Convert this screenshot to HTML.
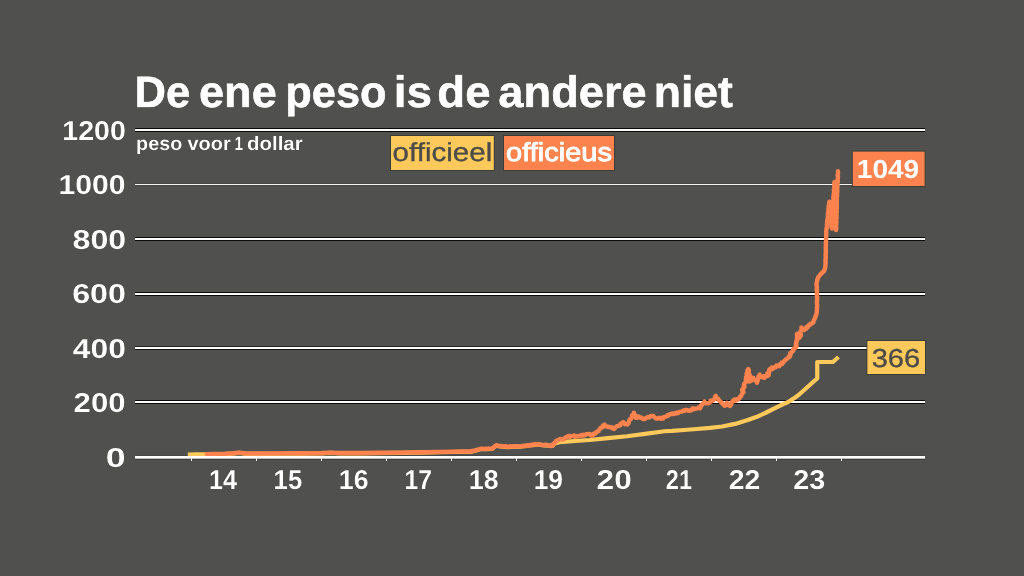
<!DOCTYPE html>
<html lang="nl"><head><meta charset="utf-8"><title>De ene peso is de andere niet</title>
<style>
html,body{margin:0;padding:0;background:#50504e;}
body{width:1024px;height:576px;overflow:hidden;}
svg{display:block;}
text{font-family:"Liberation Sans",sans-serif;text-rendering:geometricPrecision;}
.t{font-weight:700;font-size:44px;fill:#fff;stroke:#fff;stroke-width:0.7px;stroke-linejoin:round;}
.ax{font-weight:700;font-size:27.4px;fill:#fff;}
.sub{font-weight:700;font-size:19.3px;fill:#fff;}
.lg{font-size:26px;}
.med{stroke:#fff;stroke-width:0.9px;stroke-linejoin:round;}
.b{font-weight:700;}
.dk{stroke:#4b4b49;stroke-width:0.35px;stroke-linejoin:round;}
.halo{filter:drop-shadow(0 0 0.6px rgba(10,10,10,1)) drop-shadow(0 0 0.4px rgba(10,10,10,0.7));}
</style></head><body>
<svg width="1024" height="576" viewBox="0 0 1024 576">
<rect width="1024" height="576" fill="#50504e"/>
<g shape-rendering="crispEdges">
<rect x="135" y="128" width="789.6" height="1" fill="#0a0a0a"/>
<rect x="135" y="131" width="789.6" height="1" fill="#0a0a0a"/>
<rect x="135" y="129" width="789.6" height="2" fill="#fafafa"/>
<rect x="135" y="183" width="789.6" height="1" fill="#474745"/>
<rect x="135" y="185" width="789.6" height="1" fill="#474745"/>
<rect x="135" y="184" width="789.6" height="1" fill="#f4f4f4"/>
<rect x="135" y="237" width="789.6" height="1" fill="#0c0c0c"/>
<rect x="135" y="240" width="789.6" height="1" fill="#0c0c0c"/>
<rect x="135" y="238" width="789.6" height="2" fill="#fafafa"/>
<rect x="135" y="292" width="789.6" height="1" fill="#0a0a0a"/>
<rect x="135" y="295" width="789.6" height="1" fill="#0a0a0a"/>
<rect x="135" y="293" width="789.6" height="2" fill="#fafafa"/>
<rect x="135" y="346" width="789.6" height="1" fill="#242423"/>
<rect x="135" y="349" width="789.6" height="1" fill="#161615"/>
<rect x="135" y="347" width="789.6" height="2" fill="#fafafa"/>
<rect x="135" y="400" width="789.6" height="1" fill="#0a0a0a"/>
<rect x="135" y="403" width="789.6" height="1" fill="#0a0a0a"/>
<rect x="135" y="401" width="789.6" height="2" fill="#fafafa"/>
</g>
<g shape-rendering="crispEdges">
<rect x="135" y="455" width="789.6" height="1" fill="#484846"/>
<rect x="135" y="459" width="789.6" height="1" fill="#3e3e3c"/>
</g>
<polyline fill="none" stroke="#fdc95a" stroke-width="4.2" stroke-linejoin="round" stroke-linecap="butt" points="187.80,454.50 196.00,454.40 205.00,454.30 206.80,454.55 215.00,454.35 225.00,454.15 233.00,453.65 239.00,452.95 245.00,453.65 260.00,453.85 280.00,453.75 300.00,453.65 322.00,453.35 330.00,452.95 340.00,453.35 360.00,453.35 380.00,453.15 400.00,452.95 420.00,452.65 440.00,452.25 455.00,451.95 471.25,451.60 476.00,450.55 481.25,449.10 487.00,449.25 492.50,448.85 494.50,446.85 496.25,445.60 500.00,446.35 507.50,447.25 515.00,446.55 520.00,446.75 527.50,445.60 533.00,445.15 537.50,444.35 543.00,445.25 548.00,445.55 552.50,445.95 554.50,443.35 559.50,442.10 575.00,441.00 589.50,440.00 608.00,438.20 627.00,436.25 645.00,433.90 664.50,431.25 672.00,430.90 684.00,430.00 697.00,429.00 710.00,427.90 722.00,426.50 735.00,423.90 747.00,420.25 757.00,416.80 765.75,412.75 775.00,408.10 783.25,404.10 788.70,401.80 793.50,398.60 798.90,394.75 806.70,387.70 814.50,380.70 817.25,378.30 817.25,362.00 832.90,362.00 838.50,357.00"/>
<polyline fill="none" stroke="#fc834e" stroke-width="4.4" stroke-linejoin="round" stroke-linecap="round" points="206.80,454.20 215.00,454.00 225.00,453.80 233.00,453.30 239.00,452.60 245.00,453.30 260.00,453.50 280.00,453.40 300.00,453.30 322.00,453.00 330.00,452.60 340.00,453.00 360.00,453.00 380.00,452.80 400.00,452.60 420.00,452.30 440.00,451.90 455.00,451.60 471.25,451.25 472.43,450.96 473.63,450.75 474.86,450.67 476.00,450.20 477.05,449.89 478.10,449.62 479.16,449.38 480.15,448.87 481.25,448.75 482.40,448.79 483.55,448.89 484.70,449.01 485.86,448.63 487.00,448.90 488.09,448.70 489.18,448.48 490.31,448.86 491.41,448.70 492.50,448.50 492.95,447.61 494.06,447.40 494.50,446.50 495.56,446.14 496.25,445.25 497.48,445.61 498.73,445.83 500.00,446.00 501.28,445.90 502.54,445.95 503.75,446.47 505.04,446.28 506.28,446.52 507.50,446.90 508.73,446.58 509.97,446.30 511.25,446.52 512.50,446.39 513.78,446.59 515.00,446.20 516.25,446.27 517.50,446.42 518.75,446.35 520.00,446.40 521.27,446.35 522.49,445.98 523.72,445.63 525.07,446.07 526.32,445.88 527.50,445.25 528.63,445.48 529.72,445.27 530.79,444.81 531.88,444.63 533.00,444.80 534.09,444.39 535.18,443.98 536.42,444.46 537.50,444.00 538.62,444.08 539.64,444.71 540.82,444.43 541.82,445.18 543.00,444.90 544.23,445.35 545.53,444.52 546.77,444.82 548.00,445.20 549.08,445.75 550.25,445.37 551.33,446.03 552.50,445.60 553.07,444.66 553.45,443.57 554.50,443.00 555.20,442.29 555.93,441.59 556.25,440.60 558.00,440.30 558.87,439.51 560.00,439.20 561.10,438.91 562.00,439.60 562.75,439.02 563.91,439.30 564.50,438.40 566.00,437.20 567.28,436.82 568.25,435.90 569.37,436.05 570.00,437.00 570.90,436.37 571.84,435.87 573.00,436.00 574.07,435.58 574.95,436.62 576.05,435.98 577.00,436.50 578.02,436.27 578.98,435.84 580.00,435.60 580.96,435.11 582.03,435.69 582.95,434.83 584.00,435.20 585.11,435.08 585.99,434.13 587.16,434.20 588.25,434.00 589.31,433.96 590.22,434.34 590.87,435.52 592.00,435.25 593.05,435.03 593.53,433.94 594.50,433.60 595.59,433.53 595.97,432.27 597.00,432.10 597.57,431.30 598.67,431.02 599.00,430.00 599.97,429.30 600.29,427.96 601.50,427.50 602.71,427.25 602.73,425.77 603.53,425.09 604.50,424.60 604.97,425.74 606.00,426.40 607.19,426.53 608.25,427.10 609.22,426.99 610.19,426.86 611.00,427.60 612.21,427.56 612.88,428.64 613.90,429.00 614.34,428.02 615.40,427.63 616.00,426.80 616.93,426.23 617.98,425.94 619.00,425.60 620.14,425.30 620.32,424.12 621.00,423.40 622.18,422.84 623.25,422.10 623.44,423.13 624.76,423.21 625.00,424.20 626.10,423.92 627.00,424.60 628.16,423.88 628.71,422.78 629.00,421.50 629.32,420.31 629.87,419.26 631.17,418.68 631.50,417.50 632.55,416.84 632.07,415.40 633.52,414.94 633.91,413.95 633.90,412.75 634.13,413.80 634.75,414.71 635.55,415.55 636.01,416.52 635.75,417.75 636.99,417.74 637.50,416.60 638.59,416.48 639.50,417.10 640.20,417.77 641.32,417.58 642.00,418.30 643.12,419.11 644.50,419.00 645.40,418.66 646.02,417.80 647.00,417.60 647.91,416.93 649.06,417.52 650.00,417.00 650.88,416.02 652.04,415.88 653.25,415.90 654.06,416.81 655.00,417.60 655.80,418.50 657.00,418.40 658.02,418.44 658.96,417.80 660.00,418.00 661.01,418.77 662.22,417.82 663.25,418.40 663.76,417.18 664.89,416.90 666.00,416.60 666.80,416.19 667.41,415.30 668.50,415.60 668.96,414.65 669.88,414.37 670.75,414.00 671.84,414.08 672.90,413.36 674.00,413.90 674.90,413.21 676.28,413.45 677.00,412.40 678.16,412.93 679.05,412.21 680.00,411.75 681.18,411.84 682.28,411.46 683.27,410.55 684.50,410.90 685.60,410.05 686.77,409.92 688.00,410.60 689.21,410.91 690.10,410.26 691.23,410.34 692.00,409.30 692.86,408.35 694.04,409.17 694.99,408.75 696.00,408.60 697.30,408.59 698.28,407.56 699.81,408.26 700.75,407.10 700.72,405.72 701.98,405.07 702.50,404.00 703.48,403.41 704.36,402.75 704.50,401.50 704.91,402.37 705.61,402.89 706.50,403.20 708.25,403.40 709.39,402.78 710.30,401.97 710.50,400.60 711.55,400.55 712.50,401.00 713.42,400.15 714.38,399.33 714.98,398.28 714.98,396.84 715.75,395.90 716.12,397.12 716.77,398.10 718.00,398.60 718.60,399.64 719.23,400.66 720.10,401.50 721.03,401.97 721.61,402.88 722.50,403.40 723.02,404.35 724.40,404.61 724.50,405.90 725.32,405.26 726.43,404.86 726.90,403.95 727.00,402.75 727.16,403.78 728.17,404.28 728.50,405.20 730.10,405.90 730.95,405.04 731.16,403.89 731.50,402.80 732.00,401.89 733.16,401.44 733.25,400.25 734.26,399.63 735.03,400.92 736.00,400.60 736.43,399.34 737.85,399.65 738.61,398.92 739.50,398.40 739.70,397.06 741.06,396.38 741.37,395.10 742.00,394.00 742.55,393.08 743.53,392.28 742.36,390.84 742.12,389.68 743.50,389.00 743.38,387.64 744.54,386.60 743.80,385.08 744.04,383.81 745.10,382.75 746.27,381.84 745.99,380.58 745.77,379.34 747.04,378.46 746.05,377.03 746.70,376.00 747.33,374.92 746.54,373.52 747.32,372.47 748.42,371.49 748.92,370.37 748.25,369.00 747.50,370.34 748.76,371.47 748.43,372.77 749.17,373.96 749.71,375.17 749.01,376.50 748.35,377.83 748.45,379.08 748.89,380.30 749.50,381.50 750.88,380.91 749.90,379.30 750.80,378.50 752.00,377.75 753.34,377.93 753.74,379.17 754.50,380.00 755.72,380.57 756.65,381.39 757.00,382.75 757.13,381.51 757.93,380.45 757.96,379.18 758.30,378.00 758.30,376.73 759.84,375.99 759.50,374.60 759.53,376.24 761.25,376.26 762.00,377.20 763.46,376.52 764.50,377.75 764.53,376.27 766.00,376.40 767.60,375.90 768.77,375.06 767.30,373.38 769.11,372.75 769.00,371.50 769.52,370.73 769.33,369.66 770.10,369.00 771.16,369.53 771.88,367.64 773.00,368.60 773.52,367.36 774.78,367.51 775.75,367.10 776.39,365.57 778.00,366.00 779.33,366.18 779.70,364.46 780.59,363.76 781.95,364.00 781.90,362.43 783.68,362.39 784.20,361.30 784.86,360.37 785.92,359.80 786.45,358.75 787.53,358.42 788.20,357.50 789.31,357.03 790.10,356.38 789.70,355.00 790.63,354.41 790.30,352.94 791.45,352.50 792.29,351.61 793.20,350.80 793.27,349.46 793.63,348.33 795.20,348.10 795.58,347.24 796.50,346.66 796.50,345.60 795.76,344.57 795.98,343.53 796.50,342.50 796.25,341.34 797.15,340.29 796.85,339.13 796.90,338.00 797.21,336.95 797.59,335.90 796.81,334.80 797.10,333.75 796.93,334.93 797.13,335.93 798.40,336.40 799.60,337.50 798.87,336.23 800.98,335.48 800.70,334.29 799.56,332.95 800.60,332.00 800.72,330.85 801.33,329.81 802.20,328.81 801.50,327.50 802.39,328.40 802.80,329.60 804.00,330.00 804.75,329.32 805.93,329.00 806.41,328.10 806.50,326.90 807.91,327.18 808.12,325.70 809.00,325.20 810.01,325.02 810.33,323.65 811.50,323.75 812.59,323.05 813.44,322.19 813.50,320.80 814.15,319.73 814.76,318.65 815.25,317.50 815.46,316.29 816.14,315.22 816.30,314.00 816.69,313.04 816.84,312.04 816.77,311.00 816.90,310.00 817.07,308.75 816.86,307.50 817.18,306.25 817.18,305.00 816.95,303.75 816.84,302.50 817.05,301.25 817.10,300.00 817.11,298.86 817.21,297.71 817.05,296.57 816.81,295.43 817.18,294.28 816.80,293.15 817.00,292.00 817.09,290.71 816.72,289.44 816.75,288.15 816.92,286.85 816.53,285.58 816.48,284.29 816.60,283.00 816.84,281.83 817.18,280.69 817.30,279.50 817.86,278.65 818.19,277.70 818.50,276.75 819.50,275.91 820.16,274.78 821.00,273.80 821.92,273.29 822.41,272.29 823.23,271.67 824.10,271.10 824.41,270.24 824.60,269.33 825.00,268.50 825.25,267.52 825.34,266.51 825.40,265.50 825.44,264.25 825.63,263.00 825.52,261.75 825.43,260.50 825.49,259.25 825.75,258.00 825.81,256.75 825.49,255.50 825.85,254.25 825.70,253.00 825.96,251.76 825.77,250.50 825.83,249.25 825.67,248.00 825.87,246.75 825.88,245.50 825.96,244.25 825.70,242.99 826.20,241.76 826.00,240.50 826.05,239.29 826.04,238.07 826.28,236.86 826.20,235.64 826.21,234.43 826.35,233.22 826.30,232.00 826.20,230.73 826.54,229.50 826.59,228.25 826.98,227.02 827.07,225.77 826.86,224.49 827.07,223.25 827.20,222.00 827.14,220.76 827.41,219.55 827.72,218.35 827.89,217.13 827.80,215.89 827.84,214.66 827.90,213.43 828.24,212.23 828.30,211.00 828.65,209.85 828.39,208.63 828.85,207.49 828.61,206.27 828.84,205.11 828.99,203.93 829.36,202.79 829.40,201.60 829.60,202.75 829.69,203.90 829.67,205.07 830.04,206.20 829.84,207.39 830.25,208.52 830.17,209.69 830.41,210.83 830.40,212.00 830.67,213.26 830.62,214.54 830.78,215.80 830.92,217.07 831.02,218.34 831.08,219.62 831.38,220.87 831.47,222.14 831.37,223.43 831.48,224.70 831.65,225.96 831.61,227.25 831.90,228.50 832.02,227.21 832.21,225.93 831.97,224.62 832.29,223.34 832.39,222.05 832.50,220.76 832.27,219.45 832.34,218.16 832.71,216.89 832.43,215.58 832.88,214.30 832.70,213.00 832.96,211.80 832.65,210.56 832.76,209.35 833.07,208.15 832.90,206.92 832.88,205.70 833.32,204.51 833.18,203.28 833.42,202.08 833.16,200.85 833.36,199.64 833.56,198.43 833.29,197.20 833.60,196.00 833.53,194.72 833.85,193.46 834.05,192.20 834.16,190.92 833.82,189.62 834.09,188.36 834.30,187.10 834.26,185.82 834.43,184.55 834.26,183.26 834.50,182.00 834.76,183.28 834.80,184.56 834.88,185.85 834.67,187.14 834.74,188.43 834.77,189.72 835.03,190.99 835.06,192.28 835.10,193.57 834.83,194.86 834.81,196.15 834.89,197.44 835.35,198.71 835.20,200.00 835.45,201.24 835.04,202.51 835.32,203.75 835.20,205.00 835.45,206.25 835.42,207.50 835.43,208.75 835.50,210.00 835.45,211.25 835.78,212.49 835.47,213.75 835.43,215.00 835.79,216.25 835.69,217.50 835.58,218.75 835.78,220.00 835.92,221.25 835.97,222.50 835.83,223.75 836.11,224.99 835.70,226.26 835.78,227.50 835.86,228.75 836.00,230.00 836.22,228.76 836.14,227.50 836.06,226.25 836.20,225.00 836.19,223.75 836.47,222.51 836.41,221.25 836.18,220.00 836.54,218.76 836.50,217.50 836.55,216.25 836.61,215.00 836.44,213.75 836.72,212.51 836.75,211.26 836.60,210.00 836.74,208.71 836.82,207.42 836.86,206.12 836.72,204.82 836.92,203.53 836.63,202.23 836.81,200.94 836.91,199.65 836.73,198.35 836.94,197.06 837.12,195.77 837.16,194.47 837.00,193.17 837.40,191.89 837.30,190.59 837.18,189.29 837.30,188.00 837.43,186.72 837.44,185.43 837.48,184.15 837.46,182.86 837.82,181.59 837.69,180.30 837.78,179.01 837.86,177.73 838.02,176.45 837.60,175.14 837.95,173.87 838.07,172.59 838.00,171.30"/>
<g shape-rendering="crispEdges">
<rect x="135" y="456" width="789.6" height="2" fill="#ffffff"/>
<rect x="135" y="458" width="789.6" height="1" fill="#bdbdbc"/>
<rect x="191.00" y="458" width="1" height="3" fill="#f0f0f0"/>
<rect x="256.00" y="458" width="1" height="3" fill="#f0f0f0"/>
<rect x="321.00" y="458" width="1" height="3" fill="#f0f0f0"/>
<rect x="386.00" y="458" width="1" height="3" fill="#f0f0f0"/>
<rect x="451.00" y="458" width="1" height="3" fill="#f0f0f0"/>
<rect x="516.00" y="458" width="1" height="3" fill="#f0f0f0"/>
<rect x="581.00" y="458" width="1" height="3" fill="#f0f0f0"/>
<rect x="646.00" y="458" width="1" height="3" fill="#f0f0f0"/>
<rect x="711.00" y="458" width="1" height="3" fill="#f0f0f0"/>
<rect x="776.00" y="458" width="1" height="3" fill="#f0f0f0"/>
<rect x="841.00" y="458" width="1" height="3" fill="#f0f0f0"/>
</g>
<text class="t halo" y="106.7"><tspan x="134.61" textLength="55.75" lengthAdjust="spacingAndGlyphs">De</tspan> <tspan x="199.02" textLength="77.78" lengthAdjust="spacingAndGlyphs">ene</tspan> <tspan x="285.21" textLength="101.36" lengthAdjust="spacingAndGlyphs">peso</tspan> <tspan x="393.67" textLength="38.28" lengthAdjust="spacingAndGlyphs">is</tspan> <tspan x="437.39" textLength="53.24" lengthAdjust="spacingAndGlyphs">de</tspan> <tspan x="498.38" textLength="148.31" lengthAdjust="spacingAndGlyphs">andere</tspan> <tspan x="653.70" textLength="79.28" lengthAdjust="spacingAndGlyphs">niet</tspan></text>
<text class="sub halo" y="150.3"><tspan x="136.11" textLength="46.18" lengthAdjust="spacingAndGlyphs">peso</tspan> <tspan x="187.52" textLength="43.22" lengthAdjust="spacingAndGlyphs">voor</tspan> <tspan x="234.52" textLength="8.6" lengthAdjust="spacingAndGlyphs">1</tspan> <tspan x="247.00" textLength="55.69" lengthAdjust="spacingAndGlyphs">dollar</tspan></text>
<text class="ax halo" x="62.33" y="140.00" textLength="63.47" lengthAdjust="spacingAndGlyphs" >1200</text>
<text class="ax halo" x="58.52" y="194.00" textLength="67.10" lengthAdjust="spacingAndGlyphs" >1000</text>
<text class="ax halo" x="72.52" y="249.00" textLength="53.63" lengthAdjust="spacingAndGlyphs" >800</text>
<text class="ax halo" x="72.15" y="303.00" textLength="53.76" lengthAdjust="spacingAndGlyphs" >600</text>
<text class="ax halo" x="72.84" y="358.00" textLength="53.13" lengthAdjust="spacingAndGlyphs" >400</text>
<text class="ax halo" x="73.57" y="412.00" textLength="51.96" lengthAdjust="spacingAndGlyphs" >200</text>
<text class="ax halo" x="105.81" y="467.00" textLength="19.92" lengthAdjust="spacingAndGlyphs" >0</text>
<text class="ax halo" x="209.05" y="489.00" textLength="27.94" lengthAdjust="spacingAndGlyphs" >14</text>
<text class="ax halo" x="273.60" y="489.00" textLength="28.59" lengthAdjust="spacingAndGlyphs" >15</text>
<text class="ax halo" x="338.83" y="489.00" textLength="29.72" lengthAdjust="spacingAndGlyphs" >16</text>
<text class="ax halo" x="404.54" y="489.00" textLength="27.44" lengthAdjust="spacingAndGlyphs" >17</text>
<text class="ax halo" x="468.87" y="489.00" textLength="29.69" lengthAdjust="spacingAndGlyphs" >18</text>
<text class="ax halo" x="533.64" y="489.00" textLength="29.36" lengthAdjust="spacingAndGlyphs" >19</text>
<text class="ax halo" x="596.62" y="489.00" textLength="35.13" lengthAdjust="spacingAndGlyphs" >20</text>
<text class="ax halo" x="665.85" y="489.00" textLength="26.10" lengthAdjust="spacingAndGlyphs" >21</text>
<text class="ax halo" x="728.66" y="489.00" textLength="31.63" lengthAdjust="spacingAndGlyphs" >22</text>
<text class="ax halo" x="793.27" y="489.00" textLength="32.04" lengthAdjust="spacingAndGlyphs" >23</text>
<rect x="390.1" y="135.1" width="104.6" height="35.8" fill="#3a3b36"/>
<rect x="391" y="136" width="102.8" height="34" fill="#fdc95a"/>
<text class="lg dk" x="392.62" y="161.00" textLength="99.60" lengthAdjust="spacingAndGlyphs" fill="#4b4b49">officieel</text>
<rect x="503.1" y="135.1" width="111.8" height="35.8" fill="#3a3b36"/>
<rect x="504" y="136" width="110" height="34" fill="#fc834e"/>
<text class="lg med" x="506.14" y="161.00" textLength="105.78" lengthAdjust="spacingAndGlyphs" fill="#fff">officieus</text>
<rect x="851.9" y="150.7" width="73.6" height="36.2" fill="#3a3b36"/>
<rect x="852.8" y="151.6" width="71.8" height="34.4" fill="#fc834e"/>
<text class="lg b" x="856.81" y="178.20" textLength="62.39" lengthAdjust="spacingAndGlyphs" fill="#fff">1049</text>
<rect x="866.5" y="340.1" width="59.4" height="34.8" fill="#3a3b36"/>
<rect x="867.4" y="341" width="57.6" height="33" fill="#fdc95a"/>
<text class="lg dk" x="871.67" y="366.50" textLength="48.50" lengthAdjust="spacingAndGlyphs" fill="#4b4b49">366</text>
</svg>
</body></html>
